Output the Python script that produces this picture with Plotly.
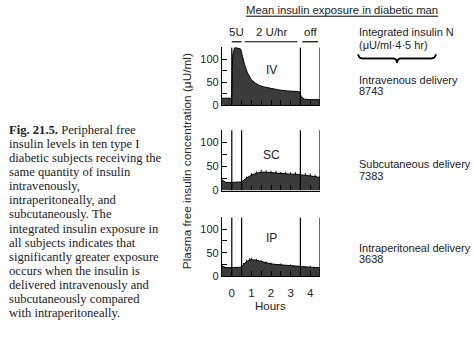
import plotly.graph_objects as go

# ---------------- data ----------------
iv_hours = [-0.5, -0.02, 0.05, 0.15, 0.3, 0.45, 0.55, 0.65, 0.8, 0.9, 1.0, 1.2, 1.4, 1.6,
            1.8, 2.0, 2.4, 2.8, 3.2, 3.45, 3.55, 3.7, 4.0, 4.5]
iv_vals = [15, 15, 110, 125, 124, 122, 105, 88, 70, 62, 55, 48, 43, 40,
           38, 36, 33, 31, 30, 29, 18, 13, 12, 12]

sc_hours = [-0.5, -0.3, 0, 0.25, 0.5, 0.75, 1.0, 1.25, 1.5, 1.75, 2.0, 2.25, 2.5,
            2.75, 3.0, 3.25, 3.5, 3.75, 4.0, 4.25, 4.5]
sc_vals = [22, 17, 17, 17, 18, 26, 32, 36, 38, 38, 37, 36, 35,
           35, 34, 34, 33, 32, 31, 29, 27]
sc_err = [0, 0, 0, 0, 0, 3, 4, 4, 5, 4, 4, 5, 4, 4, 4, 4, 4, 4, 4, 4, 3]

ip_hours = [-0.5, -0.3, 0, 0.25, 0.5, 0.6, 0.75, 0.9, 1.0, 1.25, 1.5, 1.75, 2.0,
            2.5, 3.0, 3.5, 4.0, 4.5]
ip_vals = [22, 18, 18, 18, 19, 25, 31, 34, 35, 34, 31, 28, 26, 24, 22, 21, 19, 18]
ip_err = [0, 0, 0, 0, 0, 3, 3, 4, 4, 3, 3, 3, 3, 3, 3, 3, 3, 2]

panel_names = ["IV", "SC", "IP"]
panel_markers = [[0, 3.5, 4.5], [0, 0.5, 3.5, 4.5], [0, 0.5, 3.5, 4.5]]
delivery_labels = ["Intravenous delivery", "Subcutaneous delivery", "Intraperitoneal delivery"]
integrated_values = ["8743", "7383", "3638"]

regimen_labels = ["5U", "2 U/hr", "off"]
regimen_spans = [[0.0, 0.5], [0.65, 3.35], [3.6, 4.4]]

x_tick_vals = [-0.5, 0, 0.5, 1, 1.5, 2, 2.5, 3, 3.5, 4, 4.5]
x_tick_text = ["", "0", "", "1", "", "2", "", "3", "", "4", ""]
y_tick_vals = [0, 25, 50, 75, 100, 125]
y_tick_text = ["0", "", "50", "", "100", ""]

caption_lines = [
    "<b>Fig. 21.5.</b> Peripheral free",
    "insulin levels in ten type I",
    "diabetic subjects receiving the",
    "same quantity of insulin",
    "intravenously,",
    "intraperitoneally, and",
    "subcutaneously. The",
    "integrated insulin exposure in",
    "all subjects indicates that",
    "significantly greater exposure",
    "occurs when the insulin is",
    "delivered intravenously and",
    "subcutaneously compared",
    "with intraperitoneally.",
]

# ---------------- layout constants ----------------
W, H = 474, 343
SANS = "Liberation Sans, Arial, sans-serif"
SERIF = "Liberation Serif, Times New Roman, serif"
INK = "#222"


def px(x):
    return x / W


def py(y):
    return 1 - y / H


x_domain = [px(222), px(320)]
y_domains = [[py(107), py(48)], [py(194), py(132)], [py(281), py(221)]]

fig = go.Figure()

series = [(iv_hours, iv_vals, None), (sc_hours, sc_vals, sc_err), (ip_hours, ip_vals, ip_err)]
for i, (xs, ys, err) in enumerate(series):
    ax = "" if i == 0 else str(i + 1)
    fig.add_trace(go.Scatter(
        x=xs, y=ys, mode="lines", fill="tozeroy",
        line=dict(color="black", width=1),
        fillcolor="#3b3b3b",
        xaxis="x" + ax, yaxis="y" + ax, showlegend=False, hoverinfo="skip"))
    if err is not None:
        fig.add_trace(go.Scatter(
            x=xs, y=ys, mode="markers", marker=dict(size=1, color="black"),
            error_y=dict(type="data", array=err, arrayminus=[0] * len(err),
                         symmetric=False, color="black", thickness=1, width=0),
            xaxis="x" + ax, yaxis="y" + ax, showlegend=False, hoverinfo="skip"))

# decorative curly brace under the "Integrated insulin N" header (pixel coordinates)
brace_x = [358, 359.5, 362, 394, 396, 397, 398, 400, 432, 434.5, 436]
brace_y = [55.5, 58.5, 59.5, 59.5, 60.5, 63.5, 60.5, 59.5, 59.5, 58.5, 55.5]
fig.add_trace(go.Scatter(x=brace_x, y=brace_y, mode="lines",
                         line=dict(color="black", width=1.5),
                         xaxis="x4", yaxis="y4", showlegend=False, hoverinfo="skip"))

layout = dict(
    width=W, height=H,
    margin=dict(l=0, r=0, t=0, b=0),
    paper_bgcolor="white", plot_bgcolor="rgba(0,0,0,0)",
    showlegend=False,
    xaxis4=dict(domain=[0, 1], range=[0, W], visible=False, anchor="y4",
                fixedrange=True),
    yaxis4=dict(domain=[0, 1], range=[H, 0], visible=False, anchor="x4",
                fixedrange=True),
)

for i in range(3):
    ax = "" if i == 0 else str(i + 1)
    layout["xaxis" + ax] = dict(
        domain=x_domain, range=[-0.5, 4.5], anchor="y" + ax,
        tickvals=x_tick_vals, ticktext=x_tick_text, showticklabels=(i == 2),
        ticks="inside", ticklen=5, tickcolor="black", tickwidth=1,
        ticklabelstandoff=6,
        showline=True, linecolor="black", linewidth=1.3,
        showgrid=False, zeroline=False,
        tickfont=dict(family=SANS, size=11.5, color=INK),
    )
    layout["yaxis" + ax] = dict(
        domain=y_domains[i], range=[0, 126], anchor="x" + ax,
        tickvals=y_tick_vals, ticktext=y_tick_text,
        ticks="inside", ticklen=5, tickcolor="black", tickwidth=1,
        showline=True, linecolor="black", linewidth=1.3,
        showgrid=False, zeroline=False,
        tickfont=dict(family=SANS, size=11, color=INK),
    )

fig.update_layout(**layout)

shapes = []
annotations = []


def note(x, y, text, xref="paper", yref="paper", xanchor="left", size=11,
         family=SANS, **kw):
    annotations.append(dict(xref=xref, yref=yref, x=x, y=y, text=text,
                            xanchor=xanchor, yanchor="middle", showarrow=False,
                            font=dict(family=family, size=size, color=INK), **kw))


def seg(x0, y0, x1, y1, width=1.2):
    shapes.append(dict(type="line", xref="paper", yref="paper",
                       x0=px(x0), y0=py(y0), x1=px(x1), y1=py(y1),
                       line=dict(color="black", width=width)))


# vertical event lines, panel labels, delivery texts
for i in range(3):
    ax = "" if i == 0 else str(i + 1)
    for m in panel_markers[i]:
        shapes.append(dict(type="line", xref="x" + ax, yref="y" + ax,
                           x0=m, x1=m, y0=0, y1=125,
                           line=dict(color="black", width=1.2)))
    note(2.05, [76, 74, 81][i], panel_names[i], xref="x" + ax, yref="y" + ax,
         xanchor="center", size=12)
    note(px(357), py([81, 167, 252][i]), delivery_labels[i])
    note(px(357), py([93, 179, 264][i]), integrated_values[i])

# regimen bars above IV panel
for lab, (a, b) in zip(regimen_labels, regimen_spans):
    shapes.append(dict(type="line", xref="x", yref="paper", x0=a, x1=b,
                       y0=py(42.5), y1=py(42.5), line=dict(color="black", width=1.2)))
    note((a + b) / 2, py(33), lab, xref="x", xanchor="center", size=11.5)

# title with underline
note(px(342), py(10), "Mean insulin exposure in diabetic man", xanchor="center", size=11.3)
seg(246, 16.5, 438, 16.5, width=1)

# brace also as paper-referenced segments (same geometry as the overlay trace)
for k in range(len(brace_x) - 1):
    seg(brace_x[k], brace_y[k], brace_x[k + 1], brace_y[k + 1], width=1.5)

# integrated insulin header
note(px(357), py(33), "Integrated insulin N")
note(px(357), py(46), "(μU/ml·4·5 hr)")

# axis titles
note(px(187), py(164), "Plasma free insulin concentration (μU/ml)", xanchor="center",
     textangle=-90, size=11.8)
note(px(270), py(311), "Hours", xanchor="center", size=11.5)

# caption
for k, line in enumerate(caption_lines):
    note(px(7), py(132.5 + 14.3 * k), line, family=SERIF, size=12.6)

fig.update_layout(shapes=shapes, annotations=annotations)
fig.write_html("out.html")
